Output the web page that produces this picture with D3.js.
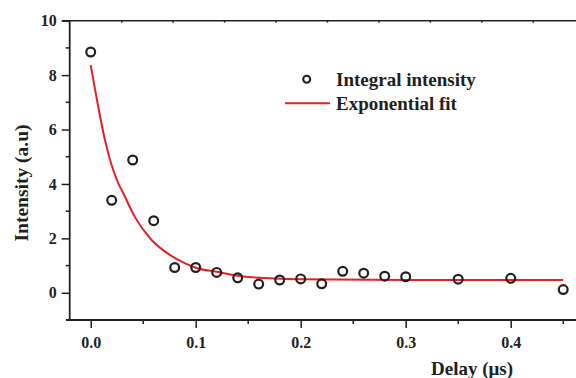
<!DOCTYPE html>
<html><head><meta charset="utf-8">
<script src="https://cdn.jsdelivr.net/npm/d3@7"></script>
<style>
html,body{margin:0;padding:0;background:#fff;}
svg{display:block;}
text{font-family:"Liberation Serif","Times New Roman",serif;font-weight:bold;fill:#231f20;}
</style></head>
<body><svg id="chart" width="576" height="378"></svg>
<script>
// Measured data (Integral intensity)
const delays = [0.0, 0.02, 0.04, 0.06, 0.08, 0.10, 0.12, 0.14, 0.16, 0.18, 0.20, 0.22, 0.24, 0.26, 0.28, 0.30, 0.35, 0.40, 0.45];
const intensities = [8.85, 3.4, 4.88, 2.65, 0.93, 0.93, 0.75, 0.55, 0.32, 0.47, 0.51, 0.33, 0.79, 0.72, 0.61, 0.59, 0.50, 0.53, 0.12];
// Exponential fit curve
const fitX = [0.0, 0.005, 0.0136, 0.0263, 0.03, 0.042, 0.058, 0.075, 0.09, 0.10, 0.12, 0.15, 0.20, 0.30, 0.45];
const fitY = [8.37, 7.29, 5.61, 4.02, 3.74, 2.79, 1.94, 1.40, 1.08, 0.92, 0.77, 0.58, 0.50, 0.47, 0.47];
const xTickValues = [0.0, 0.1, 0.2, 0.3, 0.4];
const xMinorTicks = [0.05, 0.15, 0.25, 0.35, 0.45];
const yTickValues = [0, 2, 4, 6, 8, 10];
const yMinorTicks = [1, 3, 5, 7, 9];
const legendLabels = ["Integral intensity", "Exponential fit"];
const xTitle = "Delay (\u03bcs)";
const yTitle = "Intensity (a.u)";

const svg = d3.select("#chart");
const ink = "#231f20", red = "#ec1c24";
const x = d3.scaleLinear().domain([-0.02, 0.47]).range([69.7, 584.2]);
const y = d3.scaleLinear().domain([-1, 10]).range([320, 20.7]);

// top frame line with tiny ticks
svg.append("line").attr("x1", 62).attr("x2", 576).attr("y1", y(10)).attr("y2", y(10))
  .attr("stroke", ink).attr("stroke-width", 1.6);
const topTicks = d3.range(0.0295, 0.47, 0.049);
svg.selectAll(".tt").data(topTicks).join("line")
  .attr("x1", d => x(d)).attr("x2", d => x(d)).attr("y1", y(10)).attr("y2", y(10) + 2)
  .attr("stroke", ink).attr("stroke-width", 1.4);

// left axis
const yAxis = d3.axisLeft(y).tickValues(yTickValues).tickSize(8).tickPadding(5).tickFormat(d3.format("d"));
const gy = svg.append("g").attr("transform", `translate(${x(-0.02)},0)`).call(yAxis);
gy.select(".domain").remove();
gy.append("line").attr("x1", 0).attr("x2", 0).attr("y1", y(10)).attr("y2", y(-1))
  .attr("stroke", ink).attr("stroke-width", 1.8);
gy.selectAll(".tick line").attr("stroke", ink).attr("stroke-width", 1.5);
gy.selectAll(".tick text").attr("font-size", 16).attr("fill", ink)
  .style("font-family", '"Liberation Serif",serif').style("font-weight", "bold");
gy.selectAll(".ym").data(yMinorTicks).join("line")
  .attr("x1", -4).attr("x2", 0).attr("y1", d => y(d)).attr("y2", d => y(d))
  .attr("stroke", ink).attr("stroke-width", 1.5);

// bottom axis
const xAxis = d3.axisBottom(x).tickValues(xTickValues).tickSize(8).tickPadding(9).tickFormat(d3.format(".1f"));
const gx = svg.append("g").attr("transform", `translate(0,${y(-1)})`).call(xAxis);
gx.select(".domain").remove();
gx.append("line").attr("x1", 66).attr("x2", 576).attr("y1", 0).attr("y2", 0)
  .attr("stroke", ink).attr("stroke-width", 1.8);
gx.selectAll(".tick line").attr("stroke", ink).attr("stroke-width", 1.5);
gx.selectAll(".tick text").attr("font-size", 16).attr("fill", ink)
  .style("font-family", '"Liberation Serif",serif').style("font-weight", "bold");
gx.selectAll(".xm").data(xMinorTicks).join("line")
  .attr("x1", d => x(d)).attr("x2", d => x(d)).attr("y1", 0).attr("y2", 4)
  .attr("stroke", ink).attr("stroke-width", 1.5);

// fit curve
const fitPts = fitX.map((d, i) => [d, fitY[i]]);
svg.append("path").datum(fitPts)
  .attr("d", d3.line().x(d => x(d[0])).y(d => y(d[1])).curve(d3.curveMonotoneX))
  .attr("fill", "none").attr("stroke", red).attr("stroke-width", 2);

// data points
svg.selectAll(".pt").data(delays.map((d, i) => [d, intensities[i]])).join("circle")
  .attr("cx", d => x(d[0])).attr("cy", d => y(d[1])).attr("r", 4.4)
  .attr("fill", "none").attr("stroke", ink).attr("stroke-width", 2.2);

// legend
svg.append("circle").attr("cx", 306.7).attr("cy", 79.3).attr("r", 3.5)
  .attr("fill", "none").attr("stroke", ink).attr("stroke-width", 2.1);
svg.append("text").attr("x", 336).attr("y", 86).attr("font-size", 19).text(legendLabels[0]);
svg.append("line").attr("x1", 285).attr("x2", 330).attr("y1", 103.3).attr("y2", 103.3)
  .attr("stroke", red).attr("stroke-width", 2);
svg.append("text").attr("x", 336).attr("y", 110).attr("font-size", 19).text(legendLabels[1]);

// axis titles
svg.append("text").attr("x", 472).attr("y", 375).attr("text-anchor", "middle")
  .attr("font-size", 19).text(xTitle);
svg.append("text").attr("transform", "translate(28,183) rotate(-90)")
  .attr("text-anchor", "middle").attr("font-size", 19.5).text(yTitle);
</script></body></html>
